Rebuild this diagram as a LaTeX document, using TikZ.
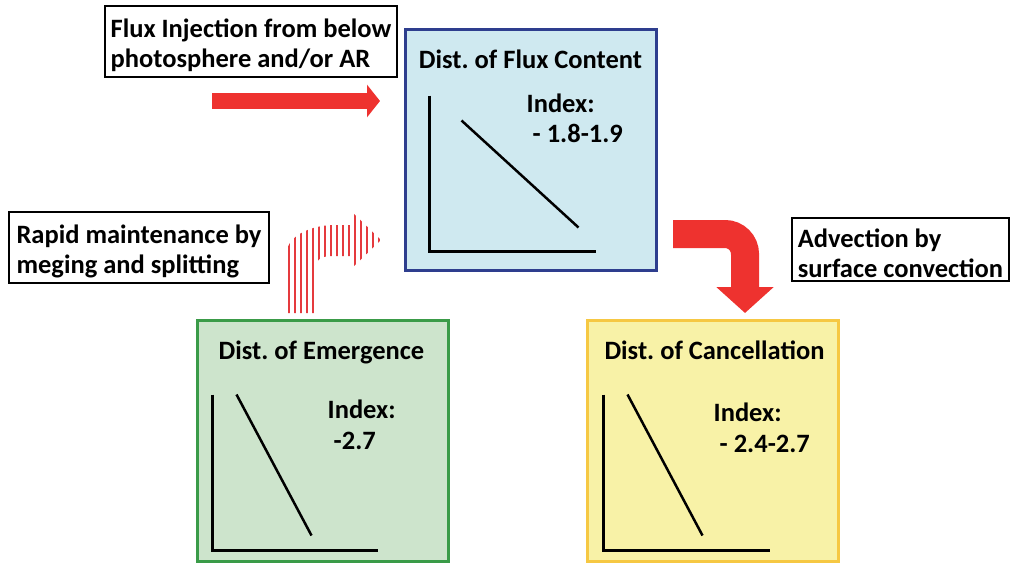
\documentclass[tikz,border=0pt]{standalone}
\usepackage{fontspec}
\setmainfont{Carlito}
\usepackage{tikz}
\usetikzlibrary{calc, positioning, arrows.meta}
\frenchspacing
\definecolor{arrowred}{RGB}{238,50,47}
\definecolor{stripered}{RGB}{229,58,62}
\definecolor{contentfill}{RGB}{207,233,240}
\definecolor{contentdraw}{RGB}{46,62,142}
\definecolor{emergefill}{RGB}{205,228,204}
\definecolor{emergedraw}{RGB}{58,155,72}
\definecolor{cancelfill}{RGB}{248,242,167}
\definecolor{canceldraw}{RGB}{246,200,67}
\newcommand{\bigfont}{\bfseries\fontsize{26.5}{30}\selectfont}
\newcommand{\topstrut}{\rule{0pt}{27pt}}
\tikzset{
    panel/.style={rectangle, line width=3pt, minimum width=251pt, minimum height=241pt, inner sep=0pt},
    note/.style={rectangle, draw=black, line width=2.8pt, align=left, font=\bigfont, inner sep=0pt},
    heading/.style={font=\bigfont, anchor=base, inner sep=0pt},
    index/.style={font=\bigfont, anchor=base west, inner sep=0pt},
    axisline/.style={line width=3pt},
    slope/.style={line width=2.5pt},
    bigarrow/.style={draw=arrowred, line width=#1},
    stripe/.style={draw=stripered, line width=2pt}
}
\begin{document}
\begin{tikzpicture}[x=1pt, y=-1pt]
    \useasboundingbox (0,0) rectangle (1011,562);

    % Panels
    \node[panel, draw=contentdraw, fill=contentfill] (content) at (530.5,149.5) {};
    \node[panel, draw=emergedraw, fill=emergefill] (emerge) at (322.5,440.5) {};
    \node[panel, draw=canceldraw, fill=cancelfill] (cancel) at (712.5,440.5) {};

    % Headings
    \node[heading] at ($(content.north)+(0,41)$) {Dist. of Flux Content};
    \node[heading] at ($(emerge.north)+(-1,41)$) {Dist. of Emergence};
    \node[heading] at ($(cancel.north)+(2,41)$) {Dist. of Cancellation};

    % Index values
    \node[index] (contentIdx) at ($(content.north west)+(123,85)$) {Index:};
    \node[index] (contentVal) at ($(contentIdx.base west)+(0,30)$) {\hspace{6pt}- 1.8-1.9};
    \node[index] (emergeIdx) at ($(emerge.north west)+(132,100)$) {Index:};
    \node[index] (emergeVal) at ($(emergeIdx.base west)+(0,31)$) {\hspace{6pt}-2.7};
    \node[index] (cancelIdx) at ($(cancel.north west)+(128,103)$) {Index:};
    \node[index] (cancelVal) at ($(cancelIdx.base west)+(0,31)$) {\hspace{6pt}- 2.4-2.7};

    % Axes and slopes
    \draw[axisline] ($(content.north west)+(26,68)$) |- ($(content.north west)+(192,224)$);
    \draw[slope] ($(content.north west)+(58,93)$) -- ($(content.north west)+(175,200)$);
    \draw[axisline] ($(emerge.north west)+(17,76)$) |- ($(emerge.north west)+(182,232)$);
    \draw[slope] ($(emerge.north west)+(41,76)$) -- ($(emerge.north west)+(116,217)$);
    \draw[axisline] ($(cancel.north west)+(18,76)$) |- ($(cancel.north west)+(184,232)$);
    \draw[slope] ($(cancel.north west)+(42,76)$) -- ($(cancel.north west)+(117,217)$);

    % Notes
    \node[note, minimum width=292pt, minimum height=71pt] (inject) at (251,41.5) {\topstrut Flux Injection from below\\photosphere and/or AR};
    \node[note, minimum width=260pt, minimum height=71pt] (rapid) at (139,247.5) {\topstrut Rapid maintenance by\\meging and splitting\hspace{6pt}};
    \node[note, minimum width=217pt, minimum height=63pt] (advect) at (900.5,249.5) {\topstrut Advection by\\surface convection};

    % Arrows
    \coordinate (injS) at (212,101);
    \coordinate (injE) at (380,101);
    \draw[bigarrow=16pt, -{Triangle[length=13pt, width=32pt]}] (injS) -- (injE);
    \coordinate (advS) at (673,234);
    \coordinate (advC) at (745,234);
    \coordinate (advE) at (745,313);
    \draw[bigarrow=28pt, rounded corners=20pt, -{Triangle[length=26pt, width=56pt]}] (advS) -- (advC) -- (advE);

    % Striped arrow
    \begin{scope}
        \clip (287,313) -- (287,252) .. controls (287,238) and (308,225) .. (335,225) -- (353,225) -- (353,213) -- (381,240) -- (353,267) -- (353,256) -- (333,256) .. controls (322,256) and (316,259) .. (316,266) -- (316,313) -- cycle;
        \foreach \k in {0,...,15}
            \draw[stripe] (289+6*\k,205) -- ++(0,110);
    \end{scope}
\end{tikzpicture}
\end{document}
